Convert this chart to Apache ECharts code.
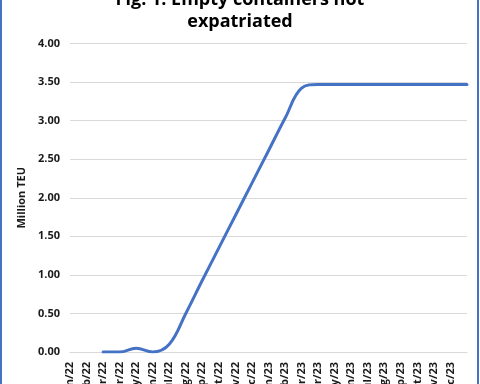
<!DOCTYPE html>
<html>
<head>
<meta charset="utf-8">
<script src="https://cdn.jsdelivr.net/npm/echarts@6/dist/echarts.min.js"></script>
<style>
html,body{margin:0;padding:0;background:#fff;}
#chart{width:480px;height:384px;}
</style>
</head>
<body>
<div id="chart"></div>
<script>
// Month labels (x axis)
var categories = ['Jan/22','Feb/22','Mar/22','Apr/22','May/22','Jun/22','Jul/22','Aug/22','Sep/22','Oct/22','Nov/22','Dec/22',
                  'Jan/23','Feb/23','Mar/23','Apr/23','May/23','Jun/23','Jul/23','Aug/23','Sep/23','Oct/23','Nov/23','Dec/23'];
// Empty containers not expatriated (million TEU); last point closes the period after Dec/23
var values = [null, null, 0, 0, 0.05, 0, 0.1, 0.5, 0.93, 1.35, 1.77, 2.19,
              2.61, 3.03, 3.42, 3.47, 3.47, 3.47, 3.47, 3.47, 3.47, 3.47, 3.47, 3.47, 3.47];
var titleText = 'Fig. 1: Empty containers not\nexpatriated';
var yAxisName = 'Million TEU';

var axisData = categories.concat(['']);
var FONT = "'Open Sans', 'Noto Sans', sans-serif";
var chart = echarts.init(document.getElementById('chart'), null, {renderer: 'canvas'});
chart.setOption({
  animation: false,
  backgroundColor: '#ffffff',
  title: {
    text: titleText,
    left: 'center',
    top: -16,
    textStyle: {fontFamily: FONT, fontSize: 18, fontWeight: 'bold', color: '#000', lineHeight: 22}
  },
  grid: {left: 70, right: 13, top: 43.5, bottom: 32, containLabel: false, outerBoundsMode: 'none'},
  xAxis: {
    type: 'category',
    data: axisData,
    boundaryGap: false,
    axisLine: {show: true, lineStyle: {color: '#d9d9d9', width: 1}},
    axisTick: {show: false},
    axisLabel: {rotate: 90, interval: 0, margin: 10, fontFamily: FONT, fontSize: 11, fontWeight: 'bold', color: '#1a1a1a'},
    splitLine: {show: false}
  },
  yAxis: {
    type: 'value',
    min: 0, max: 4, interval: 0.5,
    name: yAxisName,
    nameLocation: 'middle',
    nameGap: 42,
    nameTextStyle: {fontFamily: FONT, fontSize: 11, fontWeight: 'bold', color: '#1a1a1a'},
    axisLine: {show: false},
    axisTick: {show: false},
    axisLabel: {margin: 10, fontFamily: FONT, fontSize: 11, fontWeight: 'bold', color: '#1a1a1a',
      formatter: function (v) { return v.toFixed(2); }},
    splitLine: {lineStyle: {color: '#d9d9d9', width: 1}}
  },
  series: [{
    type: 'line',
    data: values,
    smooth: 0.4,
    showSymbol: false,
    connectNulls: false,
    lineStyle: {color: '#4472C4', width: 3, cap: 'round', join: 'round'}
  }],
  graphic: [
    {type: 'rect', left: 0, top: 0, shape: {width: 2, height: 384}, style: {fill: '#4472C4'}, z: 100},
    {type: 'rect', left: 477, top: 0, shape: {width: 2, height: 384}, style: {fill: '#4472C4'}, z: 100}
  ]
});
</script>
</body>
</html>
